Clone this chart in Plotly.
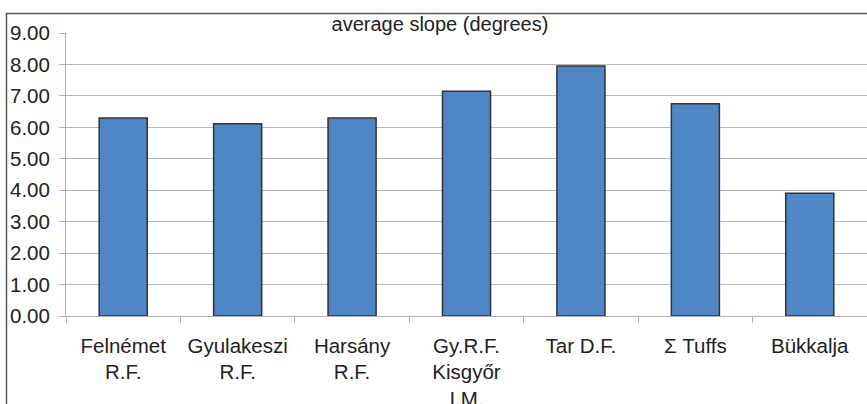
import plotly.graph_objects as go

categories = ["Felnémet<br>R.F.", "Gyulakeszi<br>R.F.", "Harsány<br>R.F.",
              "Gy.R.F.<br>Kisgyőr<br>I.M.", "Tar D.F.", "Σ Tuffs", "Bükkalja"]
values = [6.30, 6.11, 6.30, 7.15, 7.95, 6.75, 3.90]
y_ticks = [0, 1, 2, 3, 4, 5, 6, 7, 8, 9]
y_ticklabels = ["%.2f" % v for v in y_ticks]
grid_vals = [1, 2, 3, 4, 5, 6, 7, 8]
title_text = "average slope (degrees)"

FONT = "Liberation Sans, Arial, sans-serif"
TXT = "#222222"
FS = 20.5
W, H = 867, 404

fig = go.Figure()
fig.add_trace(go.Bar(
    x=categories, y=values, width=0.42,
    marker=dict(color="#4F86C6", line=dict(color="#333333", width=1.5)),
    hoverinfo="x+y", showlegend=False,
))
# invisible trace on secondary axis so the grid-only axis renders
fig.add_trace(go.Scatter(x=[categories[0]], y=[0], yaxis="y2", mode="markers",
                         marker=dict(opacity=0), showlegend=False, hoverinfo="skip"))

fig.update_layout(
    width=W, height=H,
    margin=dict(l=66, r=0, t=33, b=88, autoexpand=False, pad=0),
    paper_bgcolor="white", plot_bgcolor="white",
    font=dict(family=FONT, size=FS, color=TXT),
    title=dict(text=title_text, x=440 / W, xref="container", xanchor="center",
               y=1 - 24 / H, yref="container", yanchor="middle",
               font=dict(family=FONT, size=20, color=TXT)),
    bargap=0.58,
    xaxis=dict(
        type="category", showgrid=False, showline=True, linecolor="#b0b0b0", linewidth=1,
        ticks="outside", tickson="boundaries", ticklen=6, tickcolor="#b0b0b0",
        tickfont=dict(family=FONT, size=FS, color=TXT), ticklabelstandoff=11,
        automargin=False,
    ),
    yaxis=dict(
        range=[0, 9], tickvals=y_ticks, ticktext=y_ticklabels, showgrid=False,
        zeroline=False, showline=True, linecolor="#b0b0b0", linewidth=1,
        ticks="outside", ticklen=6, tickcolor="#b0b0b0",
        tickfont=dict(family=FONT, size=FS, color=TXT), ticklabelstandoff=5,
        automargin=False,
    ),
    yaxis2=dict(
        range=[0, 9], overlaying="y", tickvals=grid_vals, showgrid=True,
        gridcolor="#b8b8b8", gridwidth=1, showticklabels=False, zeroline=False,
        showline=False, ticks="", layer="below traces", automargin=False,
    ),
    shapes=[dict(type="rect", xref="paper", yref="paper",
                 x0=(6.5 - 66) / 801, x1=1.2, y0=-0.6, y1=(316 - 13.5) / 283,
                 line=dict(color="#555555", width=1.5), fillcolor="rgba(0,0,0,0)",
                 layer="below")],
)

fig.write_html("out.html", config={"displayModeBar": False},
               post_script="document.body.style.margin='0';document.body.style.overflow='hidden';")
